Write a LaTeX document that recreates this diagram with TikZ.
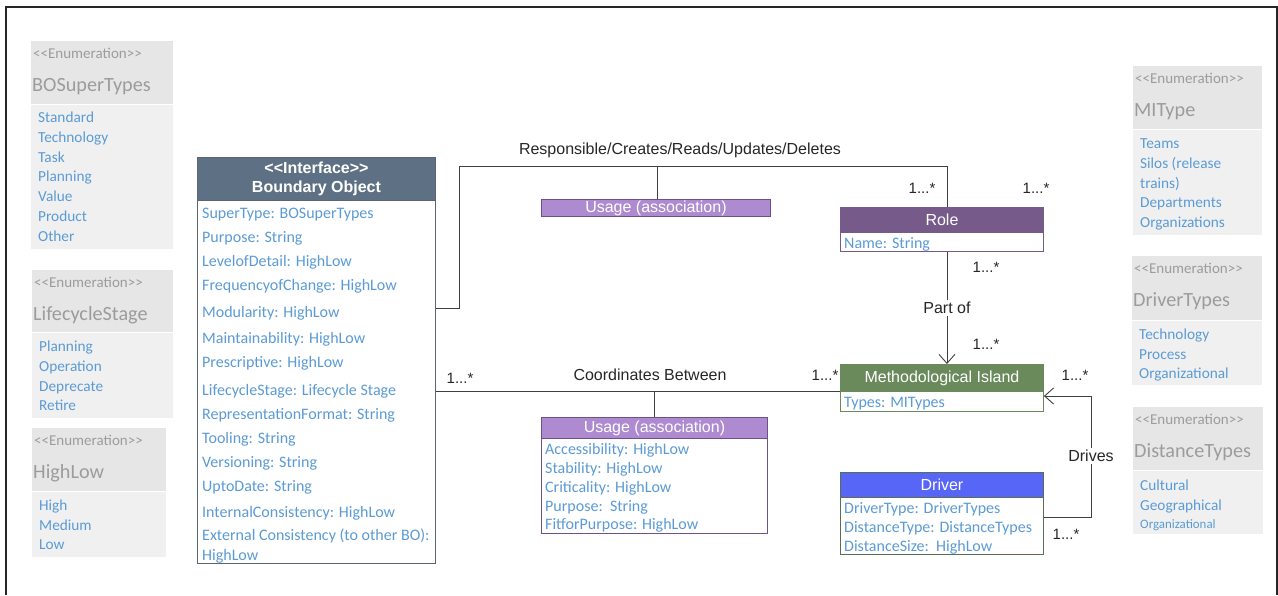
\documentclass[tikz,border=0pt]{standalone}
\usepackage{fontspec}
\setmainfont{Liberation Sans}[Ligatures=TeXOff]
\newfontfamily\carl{Carlito}[Ligatures=TeXOff]
\usetikzlibrary{arrows.meta}

\definecolor{framegray}{HTML}{262626}
\definecolor{conngray}{HTML}{404040}
\definecolor{enumhd}{HTML}{E6E6E6}
\definecolor{enumbd}{HTML}{F0F0F0}
\definecolor{enumtx}{HTML}{9C9C9C}
\definecolor{attrblue}{HTML}{5B9BD5}
\definecolor{boslate}{HTML}{5E7184}
\definecolor{boedge}{HTML}{5C6673}
\definecolor{rolepurple}{HTML}{765A8A}
\definecolor{migreen}{HTML}{6A8A5C}
\definecolor{drvblue}{HTML}{5866F7}
\definecolor{usagelilac}{HTML}{AE8BD0}
\definecolor{usageedge}{HTML}{6E5285}
\definecolor{drvedge}{HTML}{5A6E50}

\tikzset{
  box/.style={draw, line width=0.9pt, inner sep=0pt, anchor=north west},
  hbox/.style={box, text=white, font=\fontsize{16}{19}\selectfont},
  enumhead/.style={fill=enumhd, inner sep=0pt, anchor=north west},
  enumbody/.style={fill=enumbd, inner sep=0pt, anchor=north west},
  enumst/.style={font=\carl\fontsize{15}{17}\selectfont, text=enumtx, inner sep=0pt, anchor=west, text height=12pt, text depth=1pt},
  enumtitle/.style={font=\carl\fontsize{20.2}{23}\selectfont, text=enumtx, inner sep=0pt, anchor=west, text height=16pt, text depth=1.5pt},
  enumitem/.style={font=\carl\fontsize{15.3}{17}\selectfont, text=attrblue, inner sep=0pt, anchor=west, text height=12pt, text depth=1pt},
  attr/.style={font=\carl\fontsize{16}{18}\selectfont, text=attrblue, inner sep=0pt, anchor=west, text height=12.5pt, text depth=1.5pt},
  conn/.style={draw=conngray, line width=0.9pt},
  lbl/.style={font=\fontsize{16}{18}\selectfont, text=black!85, inner sep=1pt},
  mult/.style={font=\fontsize{15}{17}\selectfont, text=black!85, inner sep=0pt},
  openhead/.style={-{Straight Barb[length=9pt,width=16pt,line width=0.9pt]}}
}

% enumeration block: name, x, top y, width, header height, body height, title
\newcommand\enumblock[7]{%
  \node[enumhead, minimum width=#4, minimum height=#5] (#1) at (#2,#3) {};
  \node[enumbody, minimum width=#4, minimum height=#6] (#1-body) at (#2,#3+#5+1) {};
  \node[enumst] (#1-st) at (#2+2,#3+12) {<<Enumeration>>};
  \node[enumtitle] (#1-title) at (#2+1,#3+43) {#7};
}

\begin{document}
\begin{tikzpicture}[x=1pt,y=-1pt]
\useasboundingbox (0,0) rectangle (1278,595);

% outer frame
\draw[framegray, line width=1.5pt] (6,595) -- (6,7) -- (1277,7) -- (1277,595);

% ---- enumerations, left column
\enumblock{bost}{31}{41}{142}{63}{144}{BOSuperTypes}
\foreach \t [count=\i] in {Standard,Technology,Task,Planning,Value,Product,Other}
  \node[enumitem] (bost-\i) at (38,{117+19.8*(\i-1)}) {\t};

\enumblock{lcs}{32}{270}{141}{62}{85}{LifecycleStage}
\foreach \t [count=\i] in {Planning,Operation,Deprecate,Retire}
  \node[enumitem] (lcs-\i) at (39,{346+19.8*(\i-1)}) {\t};

\enumblock{hl}{32}{428}{134}{63}{65}{HighLow}
\foreach \t [count=\i] in {High,Medium,Low}
  \node[enumitem] (hl-\i) at (39,{505+19.6*(\i-1)}) {\t};

% ---- enumerations, right column
\enumblock{mit}{1133}{66}{129}{63}{105}{MIType}
\foreach \t [count=\i] in {Teams,{Silos (release},{trains)},Departments,Organizations}
  \node[enumitem] (mit-\i) at (1140,{143+19.8*(\i-1)}) {\t};

\enumblock{dvt}{1132}{256}{130}{64}{64}{DriverTypes}
\foreach \t [count=\i] in {Technology,Process,Organizational}
  \node[enumitem] (dvt-\i) at (1139,{334+19.6*(\i-1)}) {\t};

\enumblock{dst}{1133}{407}{130}{63}{63}{DistanceTypes}
\node[enumitem] (dst-1) at (1140,485) {Cultural};
\node[enumitem] (dst-2) at (1140,505) {Geographical};
\node[enumitem, font=\carl\fontsize{12.9}{14}\selectfont] (dst-3) at (1140,523) {Organizational};

% ---- Boundary Object
\node[hbox, fill=boslate, draw=boedge, minimum width=238, minimum height=43,
      font=\bfseries\fontsize{16}{19}\selectfont, align=center] (bo) at (197,157)
      {<<Interface>>\\Boundary Object};
\node[box, draw=boedge, fill=white, minimum width=238, minimum height=363] (bo-body) at (197,200) {};
\foreach \t/\y [count=\i] in {{SuperType: BOSuperTypes}/213, {Purpose: String}/237,
    {LevelofDetail: HighLow}/261, {FrequencyofChange: HighLow}/285,
    {Modularity: HighLow}/312, {Maintainability: HighLow}/338,
    {Prescriptive: HighLow}/362, {LifecycleStage: Lifecycle Stage}/390,
    {RepresentationFormat: String}/414, {Tooling: String}/438,
    {Versioning: String}/462, {UptoDate: String}/486,
    {InternalConsistency: HighLow}/512, {External Consistency (to other BO):}/535,
    {HighLow}/555}
  \node[attr] (bo-a\i) at (202,\y) {\t};

% ---- Role
\node[hbox, fill=rolepurple, draw=rolepurple, minimum width=203, minimum height=25] (role) at (840,207) {Role};
\node[box, draw=rolepurple, fill=white, minimum width=203, minimum height=19] (role-body) at (840,232) {};
\node[attr] (role-a1) at (844,243) {Name: String};

% ---- Methodological Island
\node[hbox, fill=migreen, draw=migreen, minimum width=203, minimum height=27] (mi) at (840,364) {Methodological Island};
\node[box, draw=migreen, fill=white, minimum width=203, minimum height=20] (mi-body) at (840,391) {};
\node[attr] (mi-a1) at (844,402) {Types: MITypes};

% ---- Driver
\node[hbox, fill=drvblue, draw=drvedge, minimum width=203, minimum height=25] (drv) at (840,472) {Driver};
\node[box, draw=drvedge, fill=white, minimum width=203, minimum height=57] (drv-body) at (840,497) {};
\node[attr] (drv-a1) at (844,508) {DriverType: DriverTypes};
\node[attr] (drv-a2) at (844,527) {DistanceType: DistanceTypes};
\node[attr] (drv-a3) at (844,546) {DistanceSize:\ \ HighLow};

% ---- association classes
\node[hbox, fill=usagelilac, draw=usageedge, minimum width=229, minimum height=17] (use1) at (541,199) {Usage (association)};
\node[hbox, fill=usagelilac, draw=usageedge, minimum width=226, minimum height=21] (use2) at (541,417) {Usage (association)};
\node[box, draw=usageedge, fill=white, minimum width=226, minimum height=95] (use2-body) at (541,438) {};
\foreach \t/\y [count=\i] in {{Accessibility: HighLow}/449, {Stability: HighLow}/468,
    {Criticality: HighLow}/487, {Purpose:\ \ String}/506, {FitforPurpose: HighLow}/524}
  \node[attr] (use2-a\i) at (545,\y) {\t};

% ---- connectors
% Boundary Object -- Role
\coordinate (bend1) at (459,166);
\draw[conn] (bo-body.north east) ++(0,108) -| (bend1) -| ([xshift=5pt]role.north);
\draw[conn] (use1.north -| 657,0) -- (657,166);
\node[lbl] (resp) at (680,150) {Responsible/Creates/Reads/Updates/Deletes};
\node[mult] (m1) at (922,188) {1...*};
\node[mult] (m2) at (1036,188) {1...*};

% Role -- Methodological Island
\draw[conn, openhead] ([xshift=5pt]role-body.south) -- ([xshift=5pt]mi.north)
  node[lbl, midway, fill=white, inner sep=2pt] (partof) {Part of};
\node[mult] (m3) at (986,267) {1...*};
\node[mult] (m4) at (986,344) {1...*};

% Boundary Object -- Methodological Island
\draw[conn] (bo-body.east |- mi.south west) -- (mi.south west);
\draw[conn] (use2.north) -- (use2.north |- mi.south west);
\node[lbl] (coord) at (650,375) {Coordinates Between};
\node[mult] (m5) at (460,378) {1...*};
\node[mult] (m6) at (825,375) {1...*};

% Driver -- Methodological Island
\coordinate (bend2) at (1091,396);
\draw[conn, openhead] ([yshift=-20pt]drv-body.north east) -| (bend2) -- ([yshift=-5pt]mi-body.north east);
\node[lbl, fill=white, inner sep=2pt] (drives) at (1091,456) {Drives};
\node[mult] (m7) at (1075,375) {1...*};
\node[mult] (m8) at (1066,534) {1...*};
\end{tikzpicture}
\end{document}
